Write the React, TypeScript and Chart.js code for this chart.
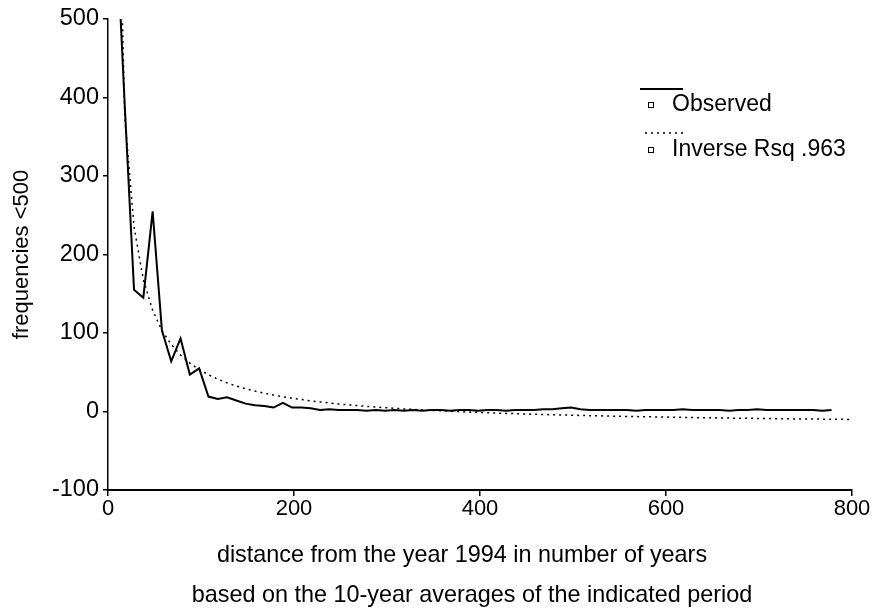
import React, { useEffect, useRef } from 'react';
import { Chart, registerables } from 'chart.js';

Chart.register(...registerables);

// distance from 1994 (years), midpoints of 10-year periods
const distance = [
  8, 18, 28, 38, 48, 58, 68, 78, 88, 98,
  108, 118, 128, 138, 148, 158, 168, 178, 188, 198,
  208, 218, 228, 238, 248, 258, 268, 278, 288, 298,
  308, 318, 328, 338, 348, 358, 368, 378, 388, 398,
  408, 418, 428, 438, 448, 458, 468, 478, 488, 498,
  508, 518, 528, 538, 548, 558, 568, 578, 588, 598,
  608, 618, 628, 638, 648, 658, 668, 678, 688, 698,
  708, 718, 728, 738, 748, 758, 768, 778,
];

const observed = [
  640, 390, 155, 145, 255, 103, 64, 93, 47, 55,
  19, 16, 18, 14, 10, 8, 7, 5, 11, 5,
  5, 4, 2, 3, 2, 2, 2, 1, 2, 1,
  2, 1, 2, 1, 2, 2, 1, 2, 2, 1,
  2, 2, 1, 2, 2, 2, 3, 3, 4, 5,
  3, 2, 2, 2, 2, 2, 1, 2, 2, 2,
  2, 3, 2, 2, 2, 2, 1, 2, 2, 3,
  2, 2, 2, 2, 2, 2, 1, 2,
];

const fitDistance = [
  8, 18, 28, 38, 48, 58, 68, 78, 88, 98,
  108, 118, 128, 138, 148, 158, 168, 178, 188, 198,
  208, 218, 228, 238, 248, 258, 268, 278, 288, 298,
  308, 318, 328, 338, 348, 358, 368, 378, 388, 398,
  408, 418, 428, 438, 448, 458, 468, 478, 488, 498,
  508, 518, 528, 538, 548, 558, 568, 578, 588, 598,
  608, 618, 628, 638, 648, 658, 668, 678, 688, 698,
  708, 718, 728, 738, 748, 758, 768, 778, 800,
];

const inverseFit = [
  869, 376, 235, 168, 129, 103, 85.5, 72, 61.7, 53.5,
  46.8, 41.2, 36.5, 32.5, 29, 26, 23.3, 20.9, 18.8, 16.9,
  15.2, 13.6, 12.2, 10.9, 9.6, 8.5, 7.5, 6.6, 5.7, 4.8,
  4.1, 3.3, 2.7, 2.0, 1.4, 0.85, 0.3, -0.2, -0.7, -1.15,
  -1.6, -2.0, -2.4, -2.8, -3.1, -3.5, -3.8, -4.1, -4.4, -4.7,
  -5.0, -5.3, -5.5, -5.8, -6.0, -6.3, -6.5, -6.7, -6.9, -7.1,
  -7.3, -7.5, -7.7, -7.9, -8.0, -8.2, -8.4, -8.5, -8.7, -8.8,
  -9.0, -9.1, -9.2, -9.4, -9.5, -9.6, -9.7, -9.9, -10.1,
];

const seriesLabels = ['Observed', 'Inverse Rsq .963'];
const xTitle = [
  'distance from the year 1994 in number of years',
  'based on the 10-year averages of the indicated period',
];
const yTitle = 'frequencies <500';

const FONT = "'Liberation Sans', Arial, Helvetica, sans-serif";

const legendPlugin = {
  id: 'spssLegend',
  afterDraw(chart: any) {
    const { ctx, chartArea } = chart;
    const x0 = chartArea.right - 212;
    const rows = [
      { lineY: chartArea.top + 70, textY: chartArea.top + 86, dash: [] as number[], label: chart.data.datasets[0].label },
      { lineY: chartArea.top + 114, textY: chartArea.top + 131, dash: [2, 4], label: chart.data.datasets[1].label },
    ];
    ctx.save();
    rows.forEach((r) => {
      ctx.strokeStyle = '#000';
      ctx.lineWidth = r.dash.length ? 1.5 : 2;
      ctx.setLineDash(r.dash);
      ctx.beginPath();
      ctx.moveTo(x0 + (r.dash.length ? 5 : 0), r.lineY);
      ctx.lineTo(x0 + 43, r.lineY);
      ctx.stroke();
      ctx.setLineDash([]);
      ctx.lineWidth = 1;
      ctx.strokeRect(x0 + 8.5, r.textY - 2.5, 5, 5);
      ctx.fillStyle = '#000';
      ctx.font = `23px ${FONT}`;
      ctx.textAlign = 'left';
      ctx.textBaseline = 'middle';
      ctx.fillText(r.label, x0 + 32, r.textY);
    });

    // x-axis title (two lines, as in the original SPSS layout)
    const mid = (chartArea.left + chartArea.right) / 2;
    ctx.font = `23.4px ${FONT}`;
    ctx.textAlign = 'center';
    ctx.textBaseline = 'middle';
    ctx.fillText(xTitle[0], mid - 18, chartArea.bottom + 66);
    ctx.fillText(xTitle[1], mid - 8, chartArea.bottom + 106);
    ctx.restore();
  },
};

export default function App() {
  const canvasRef = useRef<HTMLCanvasElement | null>(null);

  useEffect(() => {
    if (!canvasRef.current) return;
    Chart.defaults.font.family = FONT;
    Chart.defaults.color = '#000';
    const chart = new Chart(canvasRef.current, {
      type: 'scatter',
      data: {
        datasets: [
          {
            label: seriesLabels[0],
            data: distance.map((d, i) => ({ x: d, y: observed[i] })),
            showLine: true,
            borderColor: '#000',
            borderWidth: 2,
            pointRadius: 0,
            fill: false,
          },
          {
            label: seriesLabels[1],
            data: fitDistance.map((d, i) => ({ x: d, y: inverseFit[i] })),
            showLine: true,
            borderColor: '#000',
            borderWidth: 1.5,
            borderDash: [2, 4],
            pointRadius: 0,
            fill: false,
          },
        ],
      },
      options: {
        responsive: false,
        animation: false,
        layout: { padding: { top: 19, right: 21, left: 0, bottom: 0 } },
        plugins: {
          legend: { display: false },
          tooltip: { enabled: false },
        },
        scales: {
          x: {
            type: 'linear',
            min: 0,
            max: 800,
            ticks: { stepSize: 200, color: '#000', font: { size: 22 }, padding: 0, maxRotation: 0 },
            grid: { drawOnChartArea: false, drawTicks: true, tickLength: 6, color: '#000', lineWidth: 1.5 },
            border: { display: true, color: '#000', width: 2 },
            title: { display: false },
            afterFit: (s: any) => { s.height = 123; },
          },
          y: {
            type: 'linear',
            min: -100,
            max: 500,
            ticks: { stepSize: 100, color: '#000', font: { size: 23.5 }, padding: 4 },
            grid: { drawOnChartArea: false, drawTicks: true, tickLength: 5, color: '#000', lineWidth: 1.5 },
            border: { display: true, color: '#000', width: 1.5 },
            title: {
              display: true,
              text: yTitle,
              color: '#000',
              font: { size: 22 },
              padding: { top: 9, bottom: 0 },
            },
            afterFit: (s: any) => { s.width = 108; },
          },
        },
      },
      plugins: [legendPlugin],
    });
    return () => chart.destroy();
  }, []);

  return (
    <div style={{ position: 'absolute', left: 0, top: 0, width: 873, height: 613, background: '#fff' }}>
      <canvas ref={canvasRef} width={873} height={613} style={{ display: 'block' }} />
    </div>
  );
}
